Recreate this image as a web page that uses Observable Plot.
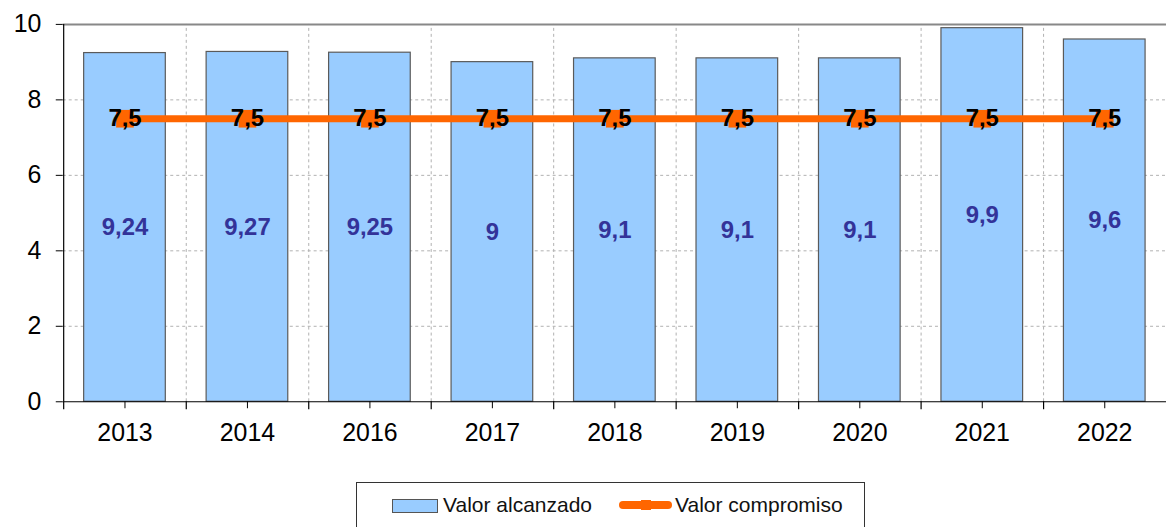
<!DOCTYPE html>
<html><head><meta charset="utf-8">
<script src="https://cdn.jsdelivr.net/npm/d3@7"></script>
<script src="https://cdn.jsdelivr.net/npm/@observablehq/plot@0.6"></script>
<style>
html,body{margin:0;padding:0;background:#fff;overflow:hidden;width:1166px;height:527px;position:relative;}
#chart{position:absolute;left:0;top:0;}
.legend{position:absolute;left:356px;top:482px;width:507px;height:60px;border:1px solid #333;background:#fff;font-family:"Liberation Sans",Arial,sans-serif;font-size:21px;color:#111;}
.legend .sw1{position:absolute;left:35px;top:16px;width:44px;height:12px;background:#99CCFF;border:1px solid #555;}
.legend .t1{position:absolute;left:86px;top:10px;line-height:24px;}
.legend .sw2{position:absolute;left:262px;top:18px;width:53px;height:8px;background:#FF6600;border-radius:4px;}
.legend .sw2m{position:absolute;left:284px;top:17px;width:10px;height:10px;background:#FF6600;}
.legend .t2{position:absolute;left:318px;top:10px;line-height:24px;}
</style></head><body>
<div id="chart"></div>
<div class="legend">
  <div class="sw1"></div><div class="t1">Valor alcanzado</div>
  <div class="sw2"></div><div class="sw2m"></div><div class="t2">Valor compromiso</div>
</div>
<script>
const years = ["2013","2014","2016","2017","2018","2019","2020","2021","2022"];
const achieved = [9.24, 9.27, 9.25, 9, 9.1, 9.1, 9.1, 9.9, 9.6];
const commitment = [7.5, 7.5, 7.5, 7.5, 7.5, 7.5, 7.5, 7.5, 7.5];
const yTicks = [0, 2, 4, 6, 8, 10];
const gridY = [2, 4, 6, 8];

const fmt = v => String(v).replace(".", ",");
const data = years.map((y, i) => ({year: y, achieved: achieved[i], commitment: commitment[i]}));

const W = 1171, H = 470, mL = 63, mR = 0, mT = 24, mB = 67;
const step = (W - mL - mR) / years.length; // paddingOuter = paddingInner / 2
const boundaries = years.slice(0, -1);

const plot = Plot.plot({
  width: W, height: H,
  marginLeft: mL, marginRight: mR, marginTop: mT, marginBottom: mB,
  style: {fontFamily: "'Liberation Sans', Arial, sans-serif", fontSize: "25px", color: "#000", background: "#fff"},
  x: {domain: years, paddingInner: 0.333, paddingOuter: 0.1667, label: null},
  y: {domain: [0, 10], label: null},
  marks: [
    Plot.ruleY(gridY, {stroke: "#b0b0b0", strokeDasharray: "3,3", strokeWidth: 1}),
    Plot.ruleX(boundaries, {x: d => d, dx: step / 2, y1: 0, y2: 10, stroke: "#b0b0b0", strokeDasharray: "3,3", strokeWidth: 1}),
    Plot.ruleY([10], {stroke: "#888", strokeWidth: 2}),
    Plot.barY(data, {x: "year", y: "achieved", fill: "#99CCFF", stroke: "#5a5a5a", strokeWidth: 1.2}),
    Plot.text(data, {x: "year", y: d => d.achieved / 2, text: d => fmt(d.achieved), fill: "#333399", fontWeight: "bold", fontSize: 24}),
    Plot.line(data, {x: "year", y: "commitment", stroke: "#FF6600", strokeWidth: 7}),
    Plot.dot(data, {x: "year", y: "commitment", symbol: "square", r: 10, fill: "#FF6600"}),
    Plot.text(data, {x: "year", y: "commitment", text: d => fmt(d.commitment), fill: "#000", fontWeight: "bold", fontSize: 24}),
    Plot.ruleY([0], {stroke: "#000", strokeWidth: 1.2}),
    Plot.ruleX([years[0]], {x: d => d, dx: -step / 2, y1: 0, y2: 10, stroke: "#000", strokeWidth: 1.2}),
    Plot.ruleX(boundaries, {x: d => d, dx: step / 2, y1: 0, y2: 0, insetTop: 8, stroke: "#000", strokeWidth: 1.2}),
    Plot.ruleX([years[0]], {x: d => d, dx: -step / 2, y1: 0, y2: 0, insetTop: 8, stroke: "#000", strokeWidth: 1.2}),
    Plot.axisX({tickSize: 7, tickPadding: 15, fontSize: 25, tickFormat: d => d}),
    Plot.axisY({ticks: yTicks, tickSize: 7, tickPadding: 15, fontSize: 25, tickFormat: d => String(d)})
  ]
});
document.getElementById("chart").appendChild(plot);
</script>
</body></html>
